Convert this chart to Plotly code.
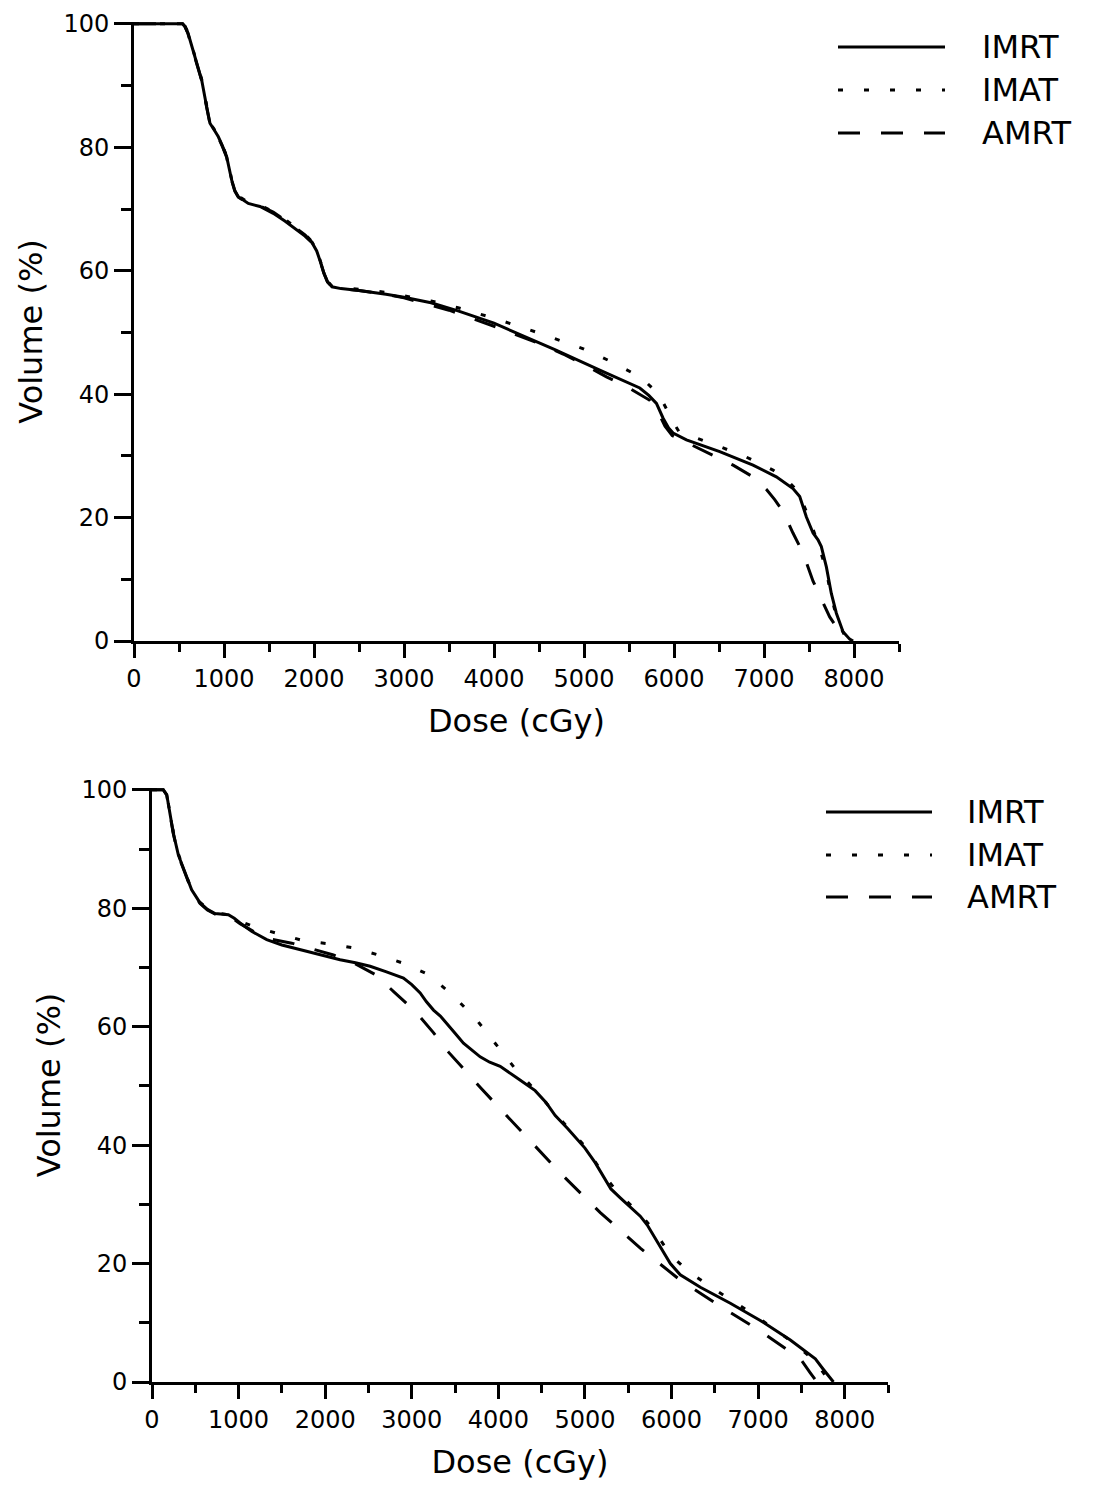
import plotly.graph_objects as go

# ---------------- data: top panel ----------------
top_imrt_dose = [0, 540, 567, 600, 650, 696, 752, 807, 844, 900, 937, 980, 1029, 1085, 1120, 1159, 1270, 1400,
                 1547, 1680, 1807, 1900, 1980, 2030, 2070, 2110, 2150, 2200, 2300, 2500, 2800, 3000, 3300, 3600,
                 4000, 4300, 4676, 5175, 5400, 5620, 5720, 5805, 5879, 5940, 5990, 6138, 6508, 6878, 7137, 7322,
                 7397, 7440, 7471, 7545, 7600, 7637, 7665, 7693, 7748, 7804, 7878, 7952, 7990]
top_imrt_vol = [100, 100, 99.6, 98.5, 96.0, 93.6, 90.9, 86.6, 83.9, 82.6, 81.7, 80.3, 78.5, 74.7, 73.0, 72.0, 70.9,
                70.4, 69.3, 68.0, 66.6, 65.6, 64.5, 63.2, 61.5, 59.6, 58.2, 57.4, 57.1, 56.8, 56.2, 55.7, 54.8, 53.5,
                51.5, 49.6, 47.2, 43.9, 42.5, 41.0, 39.8, 38.5, 36.1, 34.5, 33.7, 32.6, 30.7, 28.5, 26.6, 24.7,
                23.4, 21.5, 20.1, 17.5, 16.4, 15.3, 13.5, 12.0, 7.7, 4.5, 1.5, 0.3, 0]

top_imat_dose = [0, 540, 567, 600, 650, 696, 752, 807, 844, 900, 937, 980, 1029, 1085, 1120, 1159, 1270, 1400,
                 1547, 1680, 1807, 1900, 1980, 2030, 2070, 2110, 2150, 2200, 2300, 2500, 2800, 3000, 3300, 3600,
                 4000, 4500, 5000, 5268, 5545, 5700, 5834, 5920, 5990, 6060, 6230, 6508, 6804, 7100, 7250, 7378,
                 7440, 7500, 7600, 7693, 7741, 7822, 7900, 7960]
top_imat_vol = [100, 100, 99.6, 98.6, 96.1, 93.7, 91.0, 86.8, 84.0, 82.7, 81.8, 80.4, 78.6, 74.8, 73.1, 72.1, 71.1,
                70.6, 69.6, 68.3, 66.9, 65.9, 64.7, 63.3, 61.6, 59.7, 58.3, 57.5, 57.2, 57.0, 56.5, 55.9, 55.1, 54.0,
                52.3, 49.9, 47.3, 45.5, 43.4, 41.8, 39.9, 37.5, 35.5, 33.8, 33.0, 31.5, 29.8, 27.7, 26.2, 24.2,
                22.0, 20.0, 15.8, 11.5, 7.5, 3.1, 0.8, 0]

top_amrt_dose = [0, 540, 567, 600, 650, 696, 752, 807, 844, 900, 937, 980, 1029, 1085, 1120, 1159, 1270, 1400,
                 1547, 1680, 1807, 1900, 1980, 2030, 2070, 2110, 2150, 2200, 2300, 2500, 2800, 3000, 3500, 4000,
                 4500, 4768, 5000, 5250, 5500, 5731, 5820, 5900, 5980, 6212, 6657, 6900, 7030, 7119, 7212, 7322,
                 7433, 7545, 7630, 7730, 7840, 7900]
top_amrt_vol = [100, 100, 99.5, 98.4, 95.9, 93.5, 90.8, 86.5, 83.8, 82.5, 81.6, 80.2, 78.4, 74.6, 72.9, 71.9, 70.9,
                70.5, 69.5, 68.2, 66.8, 65.8, 64.6, 63.2, 61.5, 59.6, 58.2, 57.4, 57.1, 56.8, 56.2, 55.6, 53.6, 51.0,
                48.2, 46.5, 44.8, 42.8, 41.0, 39.0, 37.2, 34.8, 33.3, 31.7, 28.5, 26.4, 24.5, 22.9, 21.0, 17.5,
                14.3, 9.7, 7.0, 3.9, 1.5, 0]

# ---------------- data: bottom panel ----------------
bot_imrt_dose = [0, 130, 170, 208, 246, 304, 381, 458, 555, 640, 728, 882, 950, 1017, 1150, 1325, 1500, 1710,
                 1950, 2172, 2350, 2519, 2700, 2904, 3000, 3097, 3170, 3251, 3330, 3405, 3500, 3597, 3700, 3790,
                 3900, 4021, 4200, 4425, 4550, 4657, 4800, 5000, 5120, 5235, 5300, 5408, 5520, 5639, 5720, 5812,
                 5900, 5986, 6101, 6333, 6679, 7025, 7372, 7550, 7661, 7750, 7811, 7870]
bot_imrt_vol = [100, 100, 99.2, 96.1, 92.7, 89.0, 85.9, 83.1, 80.9, 79.8, 79.1, 78.9, 78.3, 77.5, 76.1, 74.7, 73.8,
                73.0, 72.1, 71.3, 70.8, 70.2, 69.3, 68.2, 67.1, 65.7, 64.2, 62.8, 61.8, 60.6, 58.9, 57.2, 55.9, 54.9,
                54.0, 53.3, 51.5, 49.2, 47.2, 45.0, 42.8, 39.5, 37.0, 34.1, 32.6, 31.1, 29.6, 28.0, 26.5, 24.3,
                22.0, 20.0, 18.1, 16.0, 13.3, 10.4, 7.1, 5.2, 3.9, 2.2, 1.0, 0]

bot_imat_dose = [0, 130, 170, 208, 246, 304, 381, 458, 555, 640, 728, 882, 1017, 1171, 1460, 1749, 2038, 2326,
                 2615, 2904, 3193, 3482, 3752, 3983, 4200, 4425, 4657, 5000, 5235, 5408, 5639, 5812, 5986, 6200,
                 6500, 6800, 7025, 7372, 7661, 7780, 7820]
bot_imat_vol = [100, 100, 99.2, 96.3, 92.9, 89.2, 86.0, 83.2, 81.0, 79.9, 79.2, 78.9, 77.8, 76.9, 75.7, 74.5, 74.0,
                73.3, 72.1, 70.7, 68.8, 65.2, 61.1, 56.8, 52.8, 49.3, 45.3, 39.8, 34.6, 31.5, 28.4, 25.3, 21.5,
                18.6, 15.6, 12.8, 10.6, 7.0, 3.5, 1.0, 0]

bot_amrt_dose = [0, 130, 170, 208, 246, 304, 381, 458, 555, 640, 728, 882, 1017, 1300, 1614, 1850, 2095, 2350,
                 2577, 2800, 3039, 3250, 3424, 3800, 4250, 4715, 5177, 5639, 6101, 6563, 7025, 7488, 7600, 7680]
bot_amrt_vol = [100, 100, 99.1, 96.0, 92.6, 88.9, 85.8, 83.0, 80.8, 79.7, 79.0, 78.8, 77.4, 75.0, 74.1, 73.1, 72.1,
                70.6, 68.8, 65.8, 62.6, 59.0, 55.7, 49.6, 42.6, 35.3, 28.6, 22.6, 17.2, 12.8, 8.6, 3.9, 1.6, 0]

series_names = ["IMRT", "IMAT", "AMRT"]
x_tickvals = [0, 1000, 2000, 3000, 4000, 5000, 6000, 7000, 8000]
y_tickvals = [0, 20, 40, 60, 80, 100]
x_title = "Dose (cGy)"
y_title = "Volume (%)"

# ---------------- styling ----------------
W, H = 1096, 1485
FONT = "DejaVu Sans"
dash_styles = {"IMRT": "solid", "IMAT": "5px,21px", "AMRT": "22px,21px"}
LW = 3

fig = go.Figure()

panels = [
    ("x", "y", [(top_imrt_dose, top_imrt_vol), (top_imat_dose, top_imat_vol), (top_amrt_dose, top_amrt_vol)]),
    ("x2", "y2", [(bot_imrt_dose, bot_imrt_vol), (bot_imat_dose, bot_imat_vol), (bot_amrt_dose, bot_amrt_vol)]),
]
for xa, ya, data in panels:
    for name, (d, v) in zip(series_names, data):
        fig.add_trace(go.Scatter(x=d, y=v, mode="lines", name=name, xaxis=xa, yaxis=ya, showlegend=False,
                                 line=dict(color="black", width=LW, dash=dash_styles[name])))

def px_x(p):
    return p / W

def px_y(p):
    return 1 - p / H

common_x = dict(range=[0, 8500], tickvals=x_tickvals, showline=True, linecolor="black", linewidth=3,
                ticks="outside", ticklen=14, tickwidth=3, tickcolor="black", showgrid=False, zeroline=False,
                tickfont=dict(family=FONT, size=24, color="black"),
                minor=dict(ticks="outside", ticklen=8, tickwidth=3, tickcolor="black", dtick=500, tick0=0,
                           showgrid=False),
                title=dict(text=x_title, font=dict(family=FONT, size=32, color="black"), standoff=18))
common_y = dict(range=[0, 100.3], tickvals=y_tickvals, showline=True, linecolor="black", linewidth=3,
                ticks="outside", ticklen=17, tickwidth=3, tickcolor="black", showgrid=False, zeroline=False,
                tickfont=dict(family=FONT, size=24, color="black"),
                minor=dict(ticks="outside", ticklen=10, tickwidth=3, tickcolor="black", dtick=10, tick0=0,
                           showgrid=False),
                title=dict(text=y_title, font=dict(family=FONT, size=32, color="black"), standoff=12))

fig.update_layout(
    width=W, height=H, margin=dict(l=0, r=0, t=0, b=0, autoexpand=False),
    paper_bgcolor="white", plot_bgcolor="white", showlegend=False,
    xaxis=dict(common_x, domain=[px_x(134), px_x(899)], anchor="y"),
    yaxis=dict(common_y, domain=[px_y(641), px_y(22)], anchor="x"),
    xaxis2=dict(common_x, domain=[px_x(152), px_x(888)], anchor="y2"),
    yaxis2=dict(common_y, domain=[px_y(1382), px_y(788)], anchor="x2"),
)

# manual legends (long line samples like the original)
legends = [
    (838, 945, 980, [47, 90, 133]),
    (826, 932, 965, [812, 855, 897]),
]
for x0, x1, xt, rows in legends:
    for name, ry in zip(series_names, rows):
        fig.add_shape(type="line", xref="paper", yref="paper", x0=px_x(x0), x1=px_x(x1), y0=px_y(ry), y1=px_y(ry),
                      line=dict(color="black", width=LW, dash=dash_styles[name]))
        fig.add_annotation(xref="paper", yref="paper", x=px_x(xt), y=px_y(ry), text=name, showarrow=False,
                           xanchor="left", yanchor="middle", font=dict(family=FONT, size=32, color="black"))

fig.write_html("out.html", config={"responsive": False},
               post_script="document.body.style.margin='0';document.body.style.padding='0';"
                           "document.documentElement.style.overflow='hidden';")
